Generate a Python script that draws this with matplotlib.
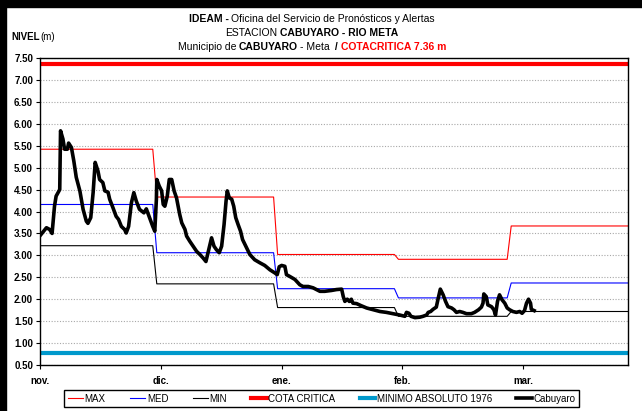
import matplotlib
matplotlib.use('Agg')
import matplotlib.pyplot as plt
from matplotlib.patches import Rectangle

# Fuentes: Arial Narrow aproximada con Liberation Sans Narrow
FAM_N = ['Liberation Sans Narrow', 'Liberation Sans', 'DejaVu Sans']
FAM = ['Liberation Sans', 'DejaVu Sans']

# Niveles diarios estacion Cabuyaro (dias desde 1 nov.)
dias = [0.2, 1.6, 2.4, 3.0, 3.6, 4.0, 4.9, 5.1, 5.7, 6.1, 6.8, 7.1, 7.8, 8.4, 9.0,
        9.9, 10.7, 11.5, 11.9, 12.6, 13.2, 13.7, 14.4, 14.8, 15.6, 16.1, 16.9, 17.3,
        18.1, 18.9, 19.5, 20.2, 21.0, 21.4, 22.0, 22.7, 23.3, 23.9, 24.7, 25.8, 26.4,
        27.2, 28.0, 28.5, 28.9, 29.0, 29.6, 30.2, 30.6, 31.0, 31.6, 32.1, 32.7, 33.3,
        33.9, 34.3, 34.7, 35.2, 36.0, 36.4, 37.2, 38.0, 38.9, 39.7, 40.5, 41.2, 41.8,
        42.6, 43.2, 43.8, 44.5, 45.1, 45.7, 46.2, 46.5, 47.0, 47.6, 48.1, 48.6, 49.2,
        49.8, 50.3, 51.1, 52.1, 53.3, 54.6, 55.8, 57.1, 58.3, 58.9, 59.4, 60.0, 60.8,
        61.2, 62.0, 63.3, 64.5, 65.3, 66.6, 67.8, 69.5, 70.7, 72.4, 73.6, 74.9, 75.3,
        75.7, 76.3, 76.8, 77.3, 77.7, 78.6, 79.8, 81.1, 82.7, 84.4, 86.0, 87.7, 89.3,
        89.7, 90.6, 91.0, 91.6, 92.1, 93.1, 94.3, 95.1, 96.0, 96.4, 97.0, 97.6, 98.4,
        98.8, 99.4, 100.1, 100.7, 101.3, 102.2, 102.8, 103.4, 104.2, 105.0, 105.9,
        107.1, 107.9, 108.9, 109.6, 110.0, 110.2, 110.8, 111.2, 112.1, 112.7, 113.1,
        113.6, 114.1, 114.7, 115.4, 116.0, 116.6, 117.4, 118.3, 119.1, 119.7, 120.3,
        120.8, 121.3, 121.8, 122.0, 122.7]
nivel = [3.47, 3.63, 3.59, 3.50, 4.12, 4.35, 4.50, 5.84, 5.65, 5.42, 5.42, 5.56, 5.46,
         5.15, 4.78, 4.47, 4.05, 3.78, 3.73, 3.86, 4.44, 5.12, 4.92, 4.73, 4.66, 4.47,
         4.44, 4.28, 4.09, 3.89, 3.82, 3.66, 3.59, 3.51, 3.66, 4.20, 4.43, 4.24, 4.05,
         3.97, 4.06, 3.86, 3.66, 3.55, 4.28, 4.73, 4.58, 4.47, 4.16, 4.12, 4.35, 4.73,
         4.73, 4.47, 4.31, 4.12, 3.93, 3.74, 3.59, 3.44, 3.32, 3.21, 3.09, 3.02, 2.94,
         2.86, 3.09, 3.40, 3.21, 3.13, 3.06, 3.21, 3.70, 4.24, 4.47, 4.31, 4.28, 4.12,
         3.86, 3.70, 3.55, 3.36, 3.21, 3.02, 2.90, 2.83, 2.77, 2.67, 2.60, 2.56, 2.74,
         2.77, 2.75, 2.56, 2.52, 2.45, 2.33, 2.29, 2.29, 2.26, 2.18, 2.18, 2.20, 2.22,
         2.23, 2.06, 1.95, 2.00, 1.95, 2.00, 1.91, 1.90, 1.85, 1.80, 1.76, 1.72, 1.70,
         1.67, 1.64, 1.63, 1.61, 1.70, 1.68, 1.61, 1.58, 1.59, 1.61, 1.64, 1.70, 1.72,
         1.77, 1.82, 1.99, 2.23, 2.10, 1.95, 1.83, 1.80, 1.76, 1.70, 1.72, 1.70, 1.67,
         1.67, 1.70, 1.76, 1.82, 1.91, 2.12, 2.06, 1.87, 1.83, 1.76, 1.64, 1.95, 2.10,
         1.99, 1.91, 1.80, 1.76, 1.72, 1.70, 1.72, 1.68, 1.74, 1.91, 2.00, 1.91, 1.77,
         1.74]

# Valores historicos mensuales (nov. a mar.)
meses = ['nov.', 'dic.', 'ene.', 'feb.', 'mar.']
inicio_mes = [0, 29, 59, 89, 117]
maximos = [5.42, 4.33, 3.02, 2.91, 3.67]
medios = [4.16, 3.06, 2.24, 2.03, 2.37]
minimos = [3.22, 2.35, 1.81, 1.61, 1.72]
cota_critica = 7.36
minimo_absoluto = 0.78
fin = 146


def escalon(valores):
    xs, ys = [], []
    for i, v in enumerate(valores):
        a = inicio_mes[i]
        b = inicio_mes[i + 1] - 1 if i + 1 < len(inicio_mes) else fin
        xs += [a, b]
        ys += [v, v]
    return xs, ys


fig = plt.figure(figsize=(6.42, 4.11), dpi=100)
W, H = 642, 411
ax = fig.add_axes([40 / W, 1 - 365 / H, 588 / W, 307 / H])

ax.yaxis.grid(True, color='#a8a8a8', linestyle=(0, (1, 1.5)), linewidth=0.8)
ax.set_axisbelow(True)

x, y = escalon(maximos)
ax.plot(x, y, color='#ff0000', linewidth=0.8, label='MAX')
x, y = escalon(medios)
ax.plot(x, y, color='#0000ff', linewidth=0.8, label='MED')
x, y = escalon(minimos)
ax.plot(x, y, color='black', linewidth=0.8, label='MIN')
ax.plot([0, fin], [cota_critica] * 2, color='#ff0000', linewidth=3.0, label='COTA CRITICA')
ax.plot([0, fin], [minimo_absoluto] * 2, color='#0099cc', linewidth=3.0,
        label='MINIMO ABSOLUTO 1976')
ax.plot(dias, nivel, color='black', linewidth=2.6, solid_joinstyle='round', label='Cabuyaro')

ax.set_xlim(0, fin)
ax.set_ylim(0.5, 7.5)
ax.set_xticks(inicio_mes[:1] + [30, 60, 90, 120])
ax.set_xticklabels(meses)
ax.set_yticks([0.5 + 0.5 * i for i in range(15)])
ax.set_yticklabels([f"{0.5 + 0.5 * i:.2f}" for i in range(15)])
ax.tick_params(direction='out', length=3, width=0.8, labelsize=7, pad=2)
ax.tick_params(axis='x', pad=5)
for lab in ax.get_xticklabels() + ax.get_yticklabels():
    lab.set_fontweight('bold')
    lab.set_family(FAM)
for s in ax.spines.values():
    s.set_linewidth(1.0)

# Marco de la figura
fig.patches.append(Rectangle((0, 1 - 7 / H), 1, 7 / H, transform=fig.transFigure,
                             color='black', zorder=10))
fig.patches.append(Rectangle((0, 0), 6 / W, 1, transform=fig.transFigure,
                             color='black', zorder=10))


def linea(y_px, partes, cx=312, size=7.5):
    textos = []
    for s, peso, color in partes:
        t = fig.text(0, 1 - y_px / H, s, fontsize=size, fontweight=peso, color=color,
                     family=FAM_N, va='center', ha='left')
        textos.append(t)
    fig.canvas.draw()
    r = fig.canvas.get_renderer()
    anchos = [t.get_window_extent(r).width for t in textos]
    gap = 2.5
    total = sum(anchos) + gap * (len(anchos) - 1)
    x0 = cx - total / 2
    for t, w in zip(textos, anchos):
        t.set_x(x0 / W)
        x0 += w + gap


linea(19, [('IDEAM -', 'bold', 'black'),
           ('Oficina del Servicio de Pronósticos y Alertas', 'normal', 'black')])
linea(33, [('ESTACION', 'normal', 'black'),
           ('CABUYARO - RIO META', 'bold', 'black')])
linea(47, [('Municipio de', 'normal', 'black'), ('CABUYARO', 'bold', 'black'),
           ('- Meta', 'normal', 'black'), (' /', 'bold', 'black'),
           ('COTACRITICA 7.36 m', 'bold', '#ff0000')])

fig.text(11 / W, 1 - 37 / H, 'NIVEL', fontsize=7, fontweight='bold', family=FAM_N,
         va='center', ha='left')
fig.text(40 / W, 1 - 37 / H, '(m)', fontsize=7, family=FAM_N, va='center', ha='left')

h, l = ax.get_legend_handles_labels()
leg = fig.legend(h, l, loc='center', bbox_to_anchor=(321.5 / W, 1 - 398.5 / H), ncol=6,
                 frameon=True, fancybox=False, edgecolor='black', framealpha=1,
                 handlelength=1.6, handletextpad=0.15, columnspacing=2.5, borderpad=0.35,
                 prop={'family': FAM_N, 'size': 7})
leg.get_frame().set_linewidth(1.0)

fig.savefig('out.png', dpi=100)
